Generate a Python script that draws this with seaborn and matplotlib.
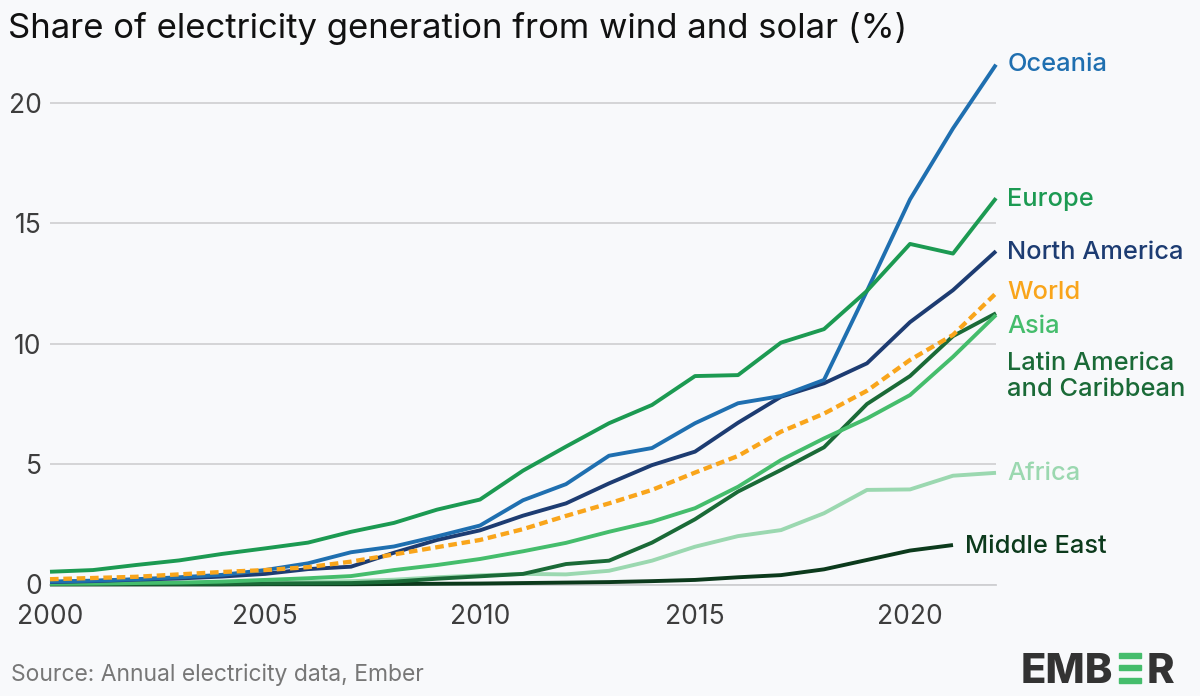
import numpy as np
import pandas as pd
import matplotlib
matplotlib.use("Agg")
import matplotlib.pyplot as plt
from matplotlib.patches import Rectangle
import seaborn as sns

# Share of electricity generation from wind and solar (%)
years = list(range(2000, 2023))

oceania = [0.12, 0.16, 0.22, 0.30, 0.40, 0.60, 0.88, 1.34, 1.58, 2.00, 2.45, 3.50,
           4.17, 5.35, 5.67, 6.70, 7.53, 7.83, 8.50, 12.20, 16.00, 18.95, 21.60]
europe = [0.53, 0.60, 0.81, 1.00, 1.27, 1.50, 1.74, 2.19, 2.56, 3.11, 3.53, 4.73,
          5.73, 6.70, 7.46, 8.66, 8.70, 10.05, 10.61, 12.20, 14.15, 13.75, 16.05]
north_america = [0.10, 0.14, 0.20, 0.25, 0.33, 0.44, 0.64, 0.74, 1.32, 1.85, 2.25, 2.86,
                 3.37, 4.20, 4.96, 5.52, 6.72, 7.80, 8.36, 9.19, 10.90, 12.23, 13.85]
world = [0.22, 0.27, 0.32, 0.42, 0.52, 0.60, 0.72, 0.95, 1.25, 1.55, 1.85, 2.30,
         2.85, 3.37, 3.93, 4.65, 5.34, 6.35, 7.10, 8.05, 9.33, 10.37, 12.10]
asia = [0.03, 0.04, 0.06, 0.08, 0.12, 0.19, 0.26, 0.35, 0.60, 0.81, 1.06, 1.38,
        1.73, 2.19, 2.61, 3.17, 4.06, 5.17, 6.07, 6.90, 7.87, 9.46, 11.20]
latin_america = [0.02, 0.02, 0.03, 0.03, 0.03, 0.04, 0.05, 0.06, 0.12, 0.24, 0.34, 0.44,
                 0.85, 0.99, 1.74, 2.71, 3.86, 4.76, 5.70, 7.50, 8.66, 10.32, 11.27]
africa = [0.02, 0.03, 0.04, 0.05, 0.06, 0.08, 0.10, 0.14, 0.20, 0.30, 0.38, 0.44,
          0.42, 0.57, 0.99, 1.57, 2.01, 2.26, 2.96, 3.93, 3.95, 4.52, 4.64]
middle_east = [0.00, 0.00, 0.00, 0.00, 0.00, 0.01, 0.01, 0.01, 0.02, 0.03, 0.04, 0.06,
               0.08, 0.10, 0.14, 0.19, 0.30, 0.39, 0.63, 1.02, 1.41, 1.64, np.nan]

series = {
    "Africa": africa,
    "Middle East": middle_east,
    "Latin America and Caribbean": latin_america,
    "Asia": asia,
    "North America": north_america,
    "Oceania": oceania,
    "Europe": europe,
    "World": world,
}

colors = {
    "Oceania": "#1f6fb0",
    "Europe": "#1c9a52",
    "North America": "#1d3c72",
    "World": "#f9a51b",
    "Asia": "#45bd6c",
    "Latin America and Caribbean": "#1a6a37",
    "Africa": "#9bd8b0",
    "Middle East": "#0c3a1c",
}

# label text and where it sits (data coords)
labels = [
    ("Oceania", "Oceania", 2022.26, 21.6),
    ("Europe", "Europe", 2022.26, 16.0),
    ("North America", "North America", 2022.26, 13.8),
    ("World", "World", 2022.26, 12.15),
    ("Asia", "Asia", 2022.26, 10.7),
    ("Latin America and Caribbean", "Latin America\nand Caribbean", 2022.26, 8.63),
    ("Africa", "Africa", 2022.26, 4.6),
    ("Middle East", "Middle East", 2021.28, 1.56),
]

bg = "#f8f9fb"
sns.set_theme(style="white")
plt.rcParams["font.family"] = ["Inter", "DejaVu Sans"]

fig = plt.figure(figsize=(12, 6.96), dpi=100, facecolor=bg)
ax = fig.add_axes([50 / 1200, (696 - 584.5) / 696, 946 / 1200, 529.5 / 696])
ax.set_facecolor(bg)

for name, vals in series.items():
    df = pd.DataFrame({"year": years, "share": vals})
    if name == "World":
        sns.lineplot(data=df, x="year", y="share", ax=ax, color=colors[name],
                     linewidth=3.1, zorder=5)
        ax.lines[-1].set_dashes((2.0, 1.1))
    else:
        sns.lineplot(data=df, x="year", y="share", ax=ax, color=colors[name],
                     linewidth=2.8, zorder=3)
for ln in ax.lines:
    ln.set_solid_capstyle("butt")
    ln.set_clip_on(False)

ax.set_xlim(2000, 2022)
ax.set_ylim(0, 22)
ax.set_xticks([2000, 2005, 2010, 2015, 2020])
ax.set_yticks([0, 5, 10, 15, 20])
ax.set_xlabel("")
ax.set_ylabel("")
ax.yaxis.grid(True, color="#d2d2d4", linewidth=1.3)
ax.xaxis.grid(False)
ax.set_axisbelow(True)
for s in ["top", "right", "left"]:
    ax.spines[s].set_visible(False)
ax.spines["bottom"].set_color("#cfcfd2")
ax.spines["bottom"].set_linewidth(1.3)
ax.tick_params(axis="y", length=0, pad=6, labelsize=19, labelcolor="#3d3d3d")
ax.tick_params(axis="x", length=6, width=1, color="#bdbdc0", direction="out",
               pad=8, labelsize=19, labelcolor="#3d3d3d")

for key, text, lx, ly in labels:
    ax.text(lx, ly, text, color=colors[key], fontsize=18.3, fontweight="medium",
            ha="left", va="center", linespacing=1.15)

fig.text(8 / 1200, 1 - 38 / 696, "Share of electricity generation from wind and solar (%)",
         fontsize=25, color="#111111", ha="left", va="baseline")
fig.text(11 / 1200, 1 - 681 / 696, "Source: Annual electricity data, Ember",
         fontsize=16.5, color="#777777", ha="left", va="baseline")

# EMBER logo
fig.text(1113 / 1200, 1 - 683 / 696, "EMB", fontsize=30, fontweight="heavy",
         color="#333333", ha="right", va="baseline")
fig.text(1147 / 1200, 1 - 683 / 696, "R", fontsize=30, fontweight="heavy",
         color="#333333", ha="left", va="baseline")
for top in [653, 665, 678]:
    fig.patches.append(Rectangle((1119 / 1200, 1 - (top + 5) / 696), 22 / 1200, 5 / 696,
                                 transform=fig.transFigure, color="#45bd6c"))

fig.savefig("out.png", dpi=100, facecolor=bg)
